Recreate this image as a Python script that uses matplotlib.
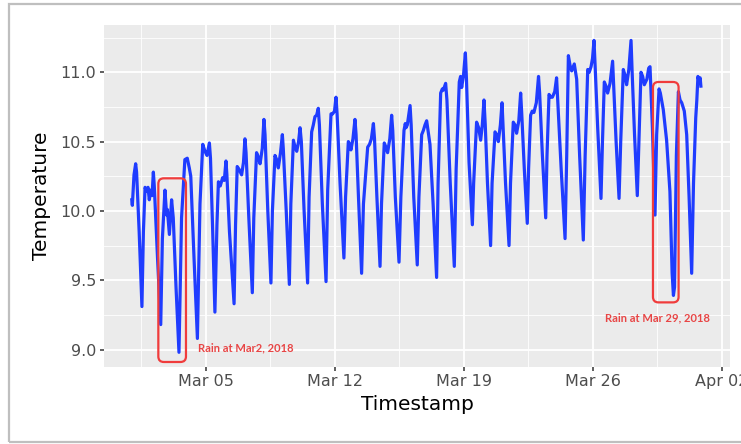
import numpy as np
import pandas as pd
import matplotlib
matplotlib.use("Agg")
import matplotlib.pyplot as plt
import matplotlib.dates as mdates
from matplotlib.patches import FancyBboxPatch, Rectangle

# sensor readings, time given as days after 2018-03-01 00:00
day_offset = [
    0.00, 0.03, 0.12, 0.21, 0.26, 0.40, 0.55,
    0.63, 0.72, 0.80, 0.88, 0.95, 1.03, 1.10, 1.17, 1.22, 1.40, 1.57,
    1.66, 1.80, 1.89, 1.93, 2.04, 2.16, 2.25, 2.40, 2.56,
    2.70, 2.88, 3.01, 3.12, 3.20, 3.38, 3.56,
    3.70, 3.85, 3.97, 4.08, 4.21, 4.27, 4.38, 4.51,
    4.62, 4.70, 4.80, 4.93, 5.02, 5.11, 5.16, 5.30, 5.55,
    5.63, 5.72, 5.82, 5.96, 6.06, 6.14, 6.20, 6.35, 6.54,
    6.62, 6.77, 6.86, 6.96, 7.08, 7.17, 7.23, 7.38, 7.55,
    7.63, 7.77, 7.86, 7.95, 8.07, 8.17, 8.22, 8.38, 8.55,
    8.63, 8.77, 8.86, 8.95, 9.05, 9.13, 9.20, 9.35, 9.54,
    9.62, 9.76, 9.85, 9.94, 10.03, 10.12, 10.18, 10.34, 10.54,
    10.63, 10.81, 10.90, 11.00, 11.08, 11.14, 11.30, 11.51,
    11.60, 11.75, 11.82, 11.89, 12.00, 12.11, 12.17, 12.30, 12.47,
    12.57, 12.80, 12.90, 13.00, 13.11, 13.17, 13.30, 13.47,
    13.55, 13.70, 13.79, 13.88, 14.00, 14.10, 14.16, 14.30, 14.50,
    14.60, 14.77, 14.84, 14.88, 14.95, 15.10, 15.16, 15.30, 15.49,
    15.58, 15.73, 15.82, 15.91, 16.00, 16.18, 16.35, 16.54,
    16.62, 16.76, 16.85, 16.90, 17.03, 17.10, 17.28, 17.50,
    17.60, 17.77, 17.84, 17.90, 18.00, 18.10, 18.16, 18.30, 18.48,
    18.55, 18.71, 18.82, 18.93, 19.02, 19.11, 19.18, 19.30, 19.47,
    19.55, 19.71, 19.80, 19.89, 20.00, 20.09, 20.15, 20.28, 20.47,
    20.55, 20.70, 20.79, 20.88, 21.00, 21.10, 21.16, 21.30, 21.46,
    21.53, 21.64, 21.73, 21.82, 21.95, 22.07, 22.13, 22.28, 22.46,
    22.53, 22.64, 22.73, 22.82, 22.95, 23.05, 23.11, 23.30, 23.51,
    23.60, 23.69, 23.78, 23.87, 24.01, 24.08, 24.14, 24.30, 24.50,
    24.60, 24.74, 24.82, 24.92, 25.00, 25.08, 25.14, 25.28, 25.46,
    25.54, 25.64, 25.73, 25.82, 25.95, 26.09, 26.15, 26.28, 26.44,
    26.53, 26.67, 26.76, 26.85, 26.97, 27.09, 27.15, 27.28, 27.43,
    27.52, 27.63, 27.72, 27.81, 27.95, 28.05, 28.12, 28.25, 28.39,
    28.48, 28.61, 28.68, 28.84, 29.02, 29.20, 29.32, 29.39,
    29.45, 29.55, 29.66, 29.75, 29.84, 29.98, 30.11, 30.24, 30.38,
    30.48, 30.60, 30.66, 30.72, 30.79, 30.84, 30.88,
]
temperature = [
    10.08, 10.04, 10.26, 10.34, 10.28, 9.85, 9.31,
    9.85, 10.17, 10.14, 10.17, 10.08, 10.15, 10.11, 10.28, 10.18, 9.65, 9.18,
    9.80, 10.15, 9.97, 10.01, 9.83, 10.08, 9.95, 9.45, 8.98,
    9.95, 10.37, 10.38, 10.31, 10.25, 9.65, 9.08,
    10.05, 10.48, 10.43, 10.40, 10.49, 10.38, 9.90, 9.27,
    9.90, 10.21, 10.18, 10.24, 10.22, 10.36, 10.26, 9.85, 9.33,
    9.90, 10.32, 10.30, 10.26, 10.35, 10.52, 10.42, 9.95, 9.41,
    9.95, 10.42, 10.39, 10.34, 10.45, 10.66, 10.55, 10.00, 9.48,
    10.00, 10.40, 10.37, 10.31, 10.42, 10.55, 10.45, 10.00, 9.47,
    10.05, 10.51, 10.46, 10.43, 10.50, 10.60, 10.50, 10.00, 9.48,
    10.10, 10.57, 10.62, 10.68, 10.69, 10.74, 10.62, 10.05, 9.49,
    10.15, 10.70, 10.70, 10.72, 10.82, 10.70, 10.20, 9.66,
    10.10, 10.50, 10.48, 10.44, 10.52, 10.66, 10.55, 10.10, 9.55,
    10.05, 10.46, 10.48, 10.52, 10.63, 10.52, 10.10, 9.60,
    10.05, 10.49, 10.46, 10.42, 10.52, 10.69, 10.58, 10.10, 9.63,
    10.10, 10.58, 10.63, 10.60, 10.62, 10.76, 10.62, 10.10, 9.61,
    10.10, 10.55, 10.58, 10.62, 10.65, 10.48, 10.05, 9.52,
    10.20, 10.85, 10.88, 10.87, 10.92, 10.80, 10.20, 9.60,
    10.30, 10.93, 10.97, 10.89, 10.98, 11.14, 10.95, 10.35, 9.90,
    10.20, 10.64, 10.60, 10.51, 10.62, 10.80, 10.62, 10.20, 9.75,
    10.20, 10.57, 10.55, 10.50, 10.62, 10.78, 10.60, 10.20, 9.75,
    10.20, 10.64, 10.62, 10.56, 10.65, 10.85, 10.70, 10.30, 9.91,
    10.30, 10.69, 10.72, 10.71, 10.78, 10.97, 10.85, 10.40, 9.95,
    10.40, 10.84, 10.82, 10.82, 10.86, 10.96, 10.80, 10.30, 9.80,
    10.40, 11.12, 11.05, 11.01, 11.06, 11.00, 10.95, 10.40, 9.79,
    10.40, 11.02, 11.00, 11.04, 11.10, 11.23, 11.05, 10.60, 10.09,
    10.50, 10.93, 10.90, 10.85, 10.92, 11.08, 10.90, 10.50, 10.09,
    10.50, 11.02, 10.98, 10.91, 11.02, 11.23, 11.00, 10.55, 10.11,
    10.50, 11.00, 10.97, 10.91, 10.95, 11.03, 11.04, 10.60, 9.97,
    10.55, 10.88, 10.85, 10.73, 10.51, 10.14, 9.55, 9.39,
    9.45, 10.40, 10.86, 10.80, 10.78, 10.72, 10.55, 10.10, 9.55,
    10.20, 10.67, 10.80, 10.97, 10.93, 10.96, 10.90,
]

# rain events: [start day, end day], [low, high] temperature
rain_days = [[1.44, 2.94], [28.28, 29.67]]
rain_temp = [[8.91, 10.235], [9.34, 10.93]]
rain_labels = ["Rain at Mar2, 2018", "Rain at Mar 29, 2018"]
rain_label_pos = [(3.61, 9.01, "left"), (28.53, 9.225, "center")]

base = pd.Timestamp("2018-03-01")
times = base + pd.to_timedelta(day_offset, unit="D")
t0 = mdates.date2num(base.to_pydatetime())

fig = plt.figure(figsize=(7.41, 4.44), dpi=100)
fig.patch.set_facecolor("white")
fig.patches.append(Rectangle((9 / 741, 2 / 444), 740 / 741, 438 / 444,
                             transform=fig.transFigure, fill=False,
                             edgecolor="#bfbfbf", linewidth=1.6))

ax = fig.add_axes([104 / 741, 77.3 / 444, 626 / 741, 341.7 / 444])
ax.set_facecolor("#ebebeb")
for s in ax.spines.values():
    s.set_visible(False)

ax.plot(times, temperature, color="#1f3cff", linewidth=2.3, zorder=3)

# red boxes around the rain events
px_day, px_temp = 18.43, 138.6
for (d0, d1), (lo, hi) in zip(rain_days, rain_temp):
    box = FancyBboxPatch((t0 + d0, lo), d1 - d0, hi - lo,
                         boxstyle="round,pad=0,rounding_size=0.3",
                         mutation_aspect=px_day / px_temp,
                         fill=False, edgecolor="#f03c3c", linewidth=1.6,
                         zorder=4)
    ax.add_patch(box)
for text, (d, v, ha) in zip(rain_labels, rain_label_pos):
    ax.text(t0 + d, v, text, color="#e84545", fontsize=8, fontfamily="Lato",
            fontweight="bold", ha=ha, va="center", zorder=5)

ax.set_xlim(t0 - 1.508, t0 + 32.46)
ax.set_ylim(8.876, 11.341)

major_days = pd.date_range("2018-03-05", periods=5, freq="7D")
ax.set_xticks(mdates.date2num(major_days.to_pydatetime()))
ax.set_xticks(mdates.date2num((major_days - pd.Timedelta(hours=84)).to_pydatetime()), minor=True)
ax.xaxis.set_major_formatter(mdates.DateFormatter("%b %d"))
ax.set_yticks([9.0, 9.5, 10.0, 10.5, 11.0])
ax.set_yticks([9.25, 9.75, 10.25, 10.75, 11.25], minor=True)
ax.yaxis.set_major_formatter(plt.FormatStrFormatter("%.1f"))

ax.grid(which="major", color="white", linewidth=1.3)
ax.grid(which="minor", color="white", linewidth=0.6)
ax.set_axisbelow(True)
ax.tick_params(which="major", length=3, width=1.1, color="#333333",
               labelcolor="#4d4d4d", labelsize=11.5, pad=2.5)
ax.tick_params(which="minor", length=0)

ax.set_xlabel("Timestamp", fontsize=14.5, labelpad=4)
ax.set_ylabel("Temperature", fontsize=14.5, labelpad=7)

fig.savefig("out.png", dpi=100)
